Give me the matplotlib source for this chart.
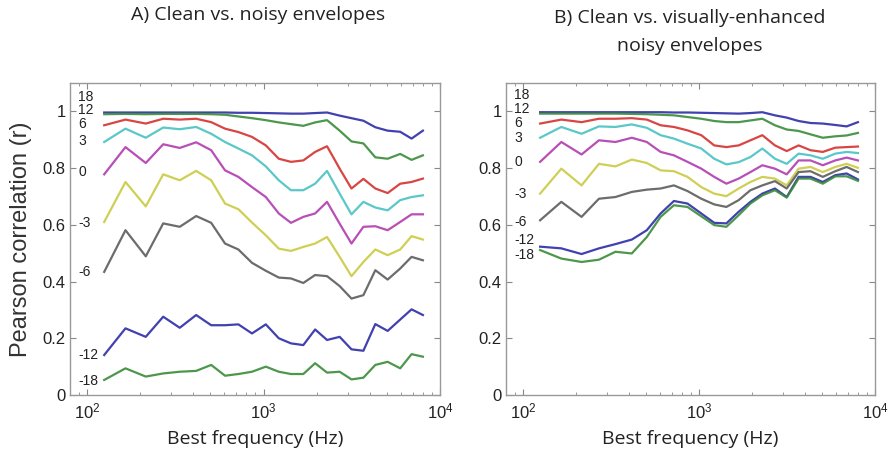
import numpy as np
import matplotlib
matplotlib.use("Agg")
from matplotlib import pyplot as plt
from matplotlib.ticker import FixedLocator, LogLocator, NullFormatter

plt.rcParams['font.family'] = ['Liberation Sans', 'DejaVu Sans']
plt.rcParams['mathtext.default'] = 'regular'

# best frequencies (Hz) of the channels
freqs = [125, 165, 215, 270, 335, 415, 505, 605, 720, 860, 1030, 1220, 1430,
         1680, 1960, 2290, 2700, 3150, 3680, 4300, 5050, 5950, 6900, 8000]

snr_labels = ["18", "12", "6", "3", "0", "-3", "-6", "-12", "-18"]
colors = ['#2c2ca6', '#3a8c3a', '#d4322e', '#48c2c2', '#b03cb0', '#caca42',
          '#5c5c5c', '#2c2ca6', '#3a8c3a']

# A) clean vs noisy
a_18 = [0.996, 0.996, 0.996, 0.996, 0.996, 0.996, 0.996, 0.996, 0.995, 0.995, 0.994, 0.993,
        0.992, 0.992, 0.994, 0.996, 0.985, 0.976, 0.967, 0.944, 0.932, 0.928, 0.904, 0.932]
a_12 = [0.990, 0.991, 0.990, 0.991, 0.991, 0.991, 0.990, 0.988, 0.982, 0.976, 0.969, 0.961,
        0.955, 0.949, 0.961, 0.969, 0.932, 0.894, 0.887, 0.838, 0.833, 0.850, 0.829, 0.845]
a_6 = [0.951, 0.971, 0.957, 0.974, 0.971, 0.974, 0.962, 0.939, 0.927, 0.910, 0.880, 0.833,
       0.822, 0.827, 0.857, 0.877, 0.798, 0.728, 0.762, 0.728, 0.712, 0.745, 0.751, 0.763]
a_3 = [0.892, 0.939, 0.907, 0.943, 0.937, 0.945, 0.921, 0.892, 0.869, 0.845, 0.806, 0.757,
       0.722, 0.722, 0.745, 0.790, 0.710, 0.637, 0.681, 0.661, 0.651, 0.687, 0.698, 0.704]
a_0 = [0.778, 0.874, 0.818, 0.884, 0.871, 0.891, 0.863, 0.792, 0.769, 0.733, 0.698, 0.640,
       0.607, 0.628, 0.640, 0.681, 0.604, 0.534, 0.593, 0.595, 0.581, 0.610, 0.637, 0.637]
a_m3 = [0.610, 0.751, 0.665, 0.778, 0.757, 0.790, 0.757, 0.675, 0.655, 0.608, 0.563, 0.516,
        0.508, 0.522, 0.534, 0.557, 0.487, 0.419, 0.469, 0.513, 0.493, 0.513, 0.560, 0.548]
a_m6 = [0.434, 0.581, 0.489, 0.605, 0.593, 0.631, 0.607, 0.534, 0.513, 0.466, 0.438, 0.414,
        0.411, 0.395, 0.423, 0.419, 0.384, 0.340, 0.352, 0.440, 0.407, 0.446, 0.487, 0.475]
a_m12 = [0.141, 0.235, 0.205, 0.276, 0.237, 0.282, 0.246, 0.246, 0.249, 0.217, 0.249, 0.200,
         0.182, 0.176, 0.231, 0.194, 0.205, 0.161, 0.156, 0.250, 0.226, 0.266, 0.302, 0.282]
a_m18 = [0.053, 0.094, 0.065, 0.076, 0.082, 0.085, 0.106, 0.068, 0.074, 0.082, 0.100, 0.082,
         0.074, 0.074, 0.112, 0.079, 0.082, 0.055, 0.061, 0.106, 0.117, 0.094, 0.144, 0.135]

# B) clean vs visually-enhanced noisy
b_18 = [0.997, 0.997, 0.997, 0.997, 0.997, 0.997, 0.997, 0.997, 0.996, 0.996, 0.995, 0.994,
        0.993, 0.992, 0.994, 0.997, 0.986, 0.978, 0.966, 0.959, 0.957, 0.952, 0.947, 0.962]
b_12 = [0.992, 0.992, 0.992, 0.992, 0.992, 0.991, 0.990, 0.988, 0.986, 0.980, 0.974, 0.966,
        0.962, 0.962, 0.968, 0.974, 0.951, 0.936, 0.931, 0.919, 0.907, 0.912, 0.915, 0.924]
b_6 = [0.957, 0.971, 0.962, 0.974, 0.974, 0.976, 0.971, 0.951, 0.945, 0.933, 0.916, 0.880,
       0.874, 0.880, 0.898, 0.916, 0.880, 0.860, 0.880, 0.863, 0.857, 0.872, 0.874, 0.876]
b_3 = [0.907, 0.945, 0.921, 0.947, 0.945, 0.954, 0.942, 0.916, 0.904, 0.886, 0.869, 0.833,
       0.813, 0.821, 0.839, 0.869, 0.833, 0.815, 0.851, 0.845, 0.833, 0.851, 0.857, 0.853]
b_0 = [0.822, 0.892, 0.848, 0.898, 0.892, 0.907, 0.892, 0.857, 0.845, 0.822, 0.798, 0.769,
       0.745, 0.763, 0.786, 0.810, 0.798, 0.778, 0.827, 0.827, 0.810, 0.827, 0.837, 0.827]
b_m3 = [0.710, 0.798, 0.739, 0.815, 0.806, 0.830, 0.818, 0.792, 0.789, 0.769, 0.733, 0.710,
        0.701, 0.728, 0.751, 0.769, 0.763, 0.739, 0.798, 0.804, 0.786, 0.804, 0.815, 0.801]
b_m6 = [0.616, 0.681, 0.628, 0.692, 0.698, 0.716, 0.724, 0.728, 0.739, 0.719, 0.692, 0.672,
        0.663, 0.687, 0.722, 0.739, 0.754, 0.728, 0.786, 0.789, 0.769, 0.789, 0.804, 0.786]
b_m12 = [0.523, 0.517, 0.497, 0.517, 0.532, 0.548, 0.581, 0.640, 0.684, 0.675, 0.640, 0.607,
         0.605, 0.646, 0.681, 0.710, 0.728, 0.698, 0.769, 0.769, 0.751, 0.775, 0.781, 0.760]
b_m18 = [0.511, 0.481, 0.469, 0.477, 0.505, 0.499, 0.557, 0.628, 0.669, 0.663, 0.630, 0.599,
         0.593, 0.634, 0.675, 0.704, 0.722, 0.696, 0.763, 0.763, 0.745, 0.771, 0.771, 0.755]

a_label_y = [1.052, 1.006, 0.955, 0.897, 0.785, 0.606, 0.433, 0.141, 0.049]
b_label_y = [1.058, 1.010, 0.960, 0.906, 0.822, 0.710, 0.610, 0.548, 0.492]

series_a = [a_18, a_12, a_6, a_3, a_0, a_m3, a_m6, a_m12, a_m18]
series_b = [b_18, b_12, b_6, b_3, b_0, b_m3, b_m6, b_m12, b_m18]

fig = plt.figure(figsize=(8.93, 4.61), dpi=100)
axA = fig.add_axes([70 / 893, 66 / 461, 370 / 893, 312 / 461])
axB = fig.add_axes([506 / 893, 66 / 461, 369 / 893, 312 / 461])

label_font = ['Liberation Sans Narrow', 'Liberation Sans', 'DejaVu Sans']
title_font = ['Open Sans', 'DejaVu Sans']

for ax, series, label_y in [(axA, series_a, a_label_y), (axB, series_b, b_label_y)]:
    for vals, c in zip(series, colors):
        ax.plot(freqs, vals, color=c, lw=1.6, alpha=0.9)
    for lab, y in zip(snr_labels, label_y):
        ax.text(0.022, y, lab, transform=ax.get_yaxis_transform(), fontsize=10,
                family=label_font, ha='left', va='center', color='#222222')
    ax.set_xscale('log')
    ax.set_xlim(80, 10000)
    ax.set_ylim(0, 1.1)
    ax.set_yticks([0, 0.2, 0.4, 0.6, 0.8, 1.0])
    ax.set_yticklabels(["0", "0.2", "0.4", "0.6", "0.8", "1"])
    ax.xaxis.set_major_locator(FixedLocator([100, 1000, 10000]))
    ax.xaxis.set_minor_locator(LogLocator(base=10, subs=np.arange(2, 10)))
    ax.xaxis.set_minor_formatter(NullFormatter())
    ax.set_xticklabels(['$10^{2}$', '$10^{3}$', '$10^{4}$'])
    ax.tick_params(which='both', direction='in', top=True, right=True,
                   color='#888888', labelsize=12, labelcolor='#222222')
    ax.tick_params(which='major', length=4)
    ax.tick_params(which='minor', length=2.5)
    ax.tick_params(axis='x', pad=5)
    ax.tick_params(axis='y', pad=3)
    for sp in ax.spines.values():
        sp.set_color('#999999')
        sp.set_linewidth(1.0)
    ax.set_xlabel('Best frequency (Hz)', family=title_font, fontsize=14, color='#222222',
                  labelpad=6)

axA.set_ylabel('Pearson correlation (r)', fontsize=17, color='#333333', labelpad=8)

fig.text(258 / 893, 1 - 15 / 461, 'A) Clean vs. noisy envelopes', family=title_font,
         fontsize=14, ha='center', va='center', color='#222222')
fig.text(690 / 893, 1 - 32 / 461, 'B) Clean vs. visually-enhanced\nnoisy envelopes',
         family=title_font, fontsize=14, ha='center', va='center', color='#222222',
         linespacing=1.75)

fig.savefig('out.png', dpi=100)
